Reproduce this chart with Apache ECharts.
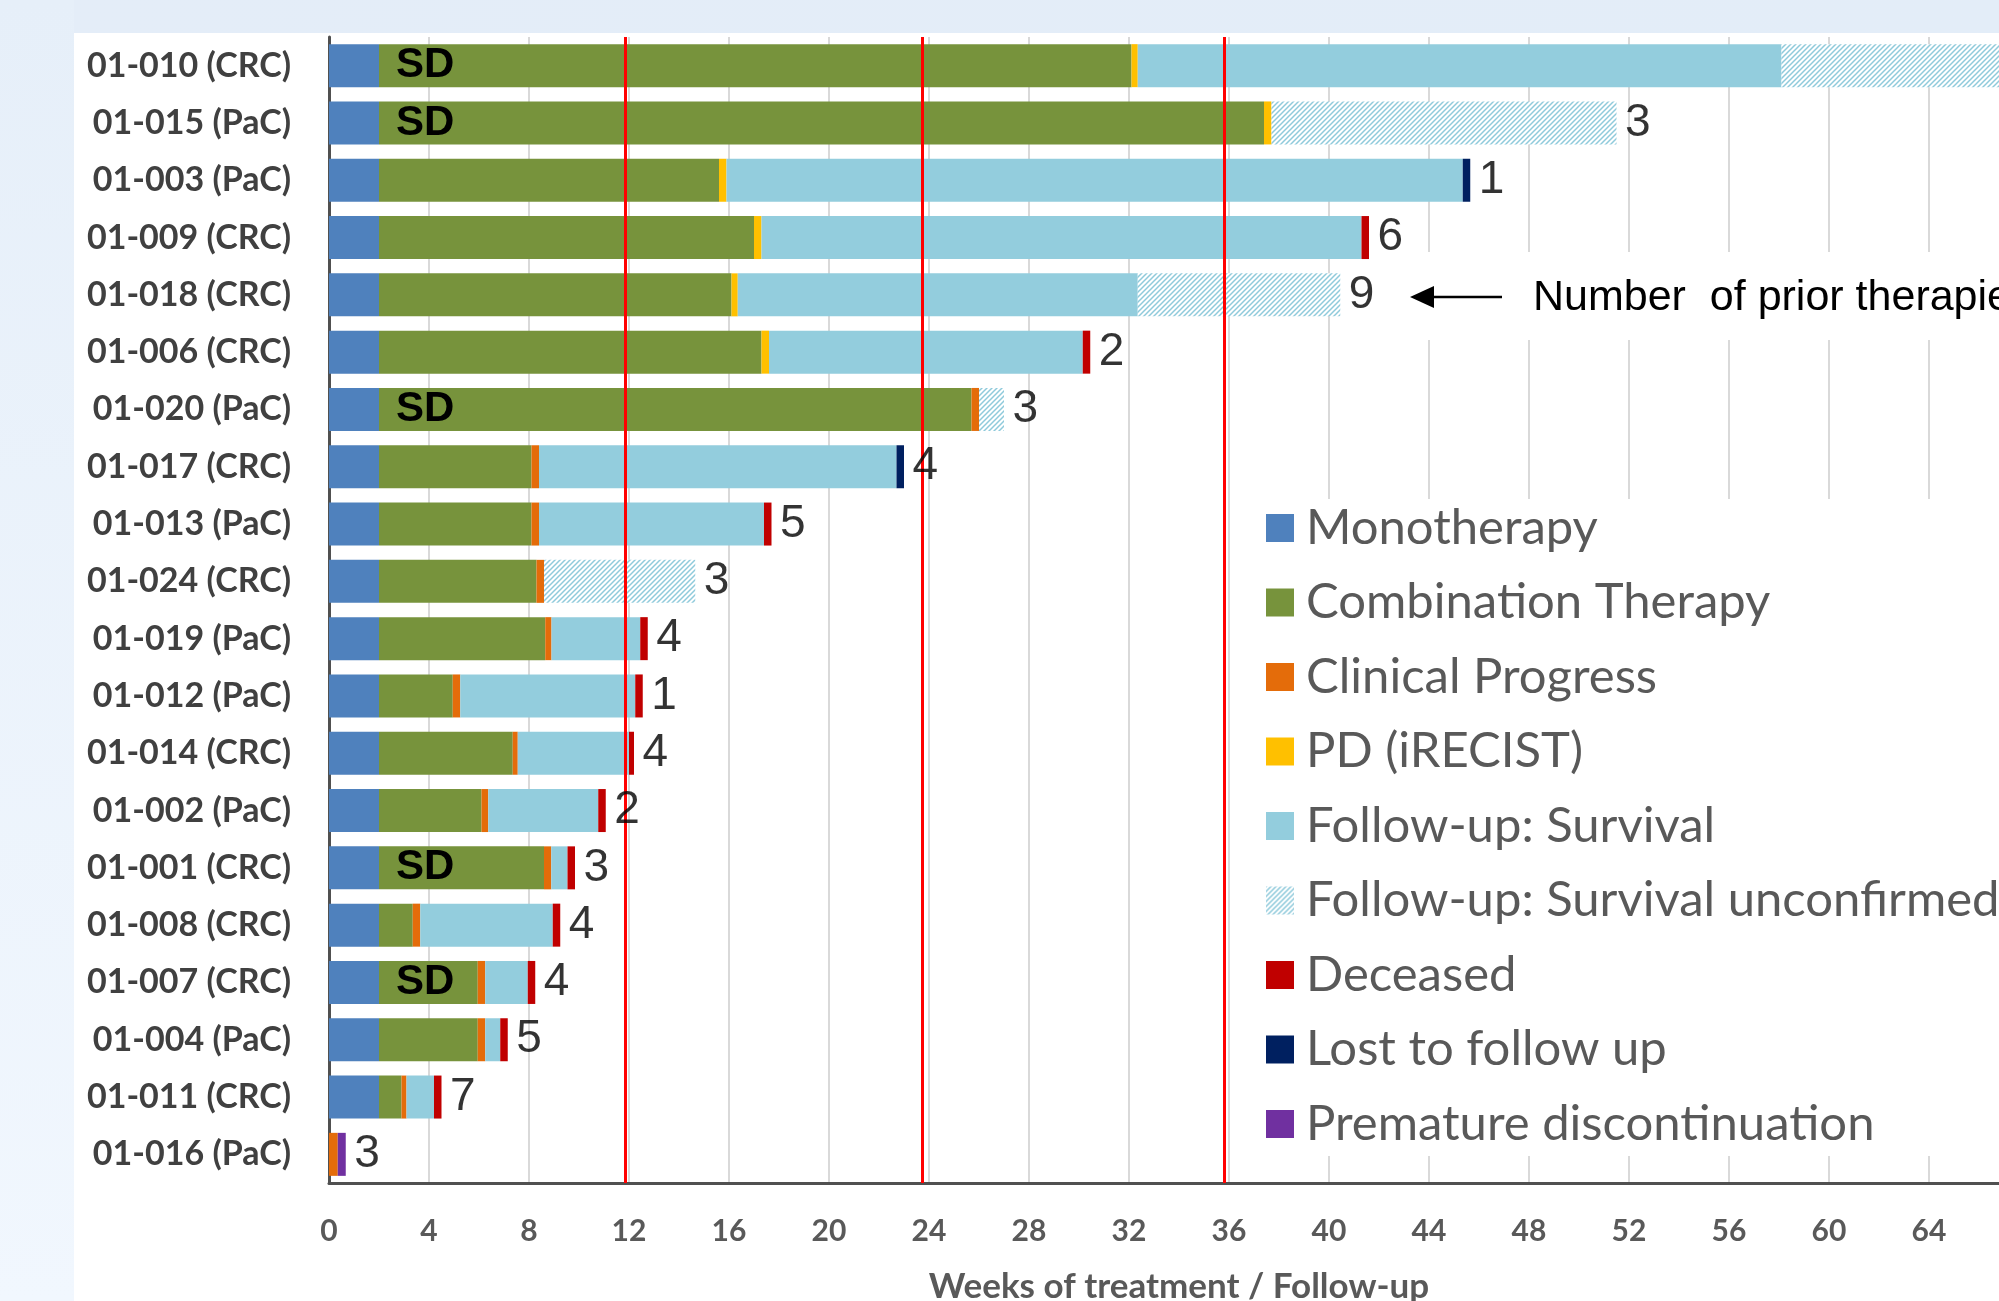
<!DOCTYPE html>
<html>
<head>
<meta charset="utf-8">
<script src="https://cdn.jsdelivr.net/npm/echarts@6/dist/echarts.min.js"></script>
<style>
  html, body { margin: 0; padding: 0; width: 1999px; height: 1301px; overflow: hidden; background: #fff; }
  #bandTop { position: absolute; left: 0; top: 0; width: 1999px; height: 33px; background: linear-gradient(90deg, #e4edf8, #e3edf8); }
  #bandLeft { position: absolute; left: 0; top: 0; width: 74px; height: 1301px; background: linear-gradient(180deg, #e6eff9, #f1f7fe); }
  #main { position: absolute; left: 0; top: 0; width: 2100px; height: 1301px; }
</style>
</head>
<body>
<div id="bandTop"></div>
<div id="bandLeft"></div>
<div id="main"></div>
<script>
// patients, top to bottom
var patients = ['01-010 (CRC)', '01-015 (PaC)', '01-003 (PaC)', '01-009 (CRC)', '01-018 (CRC)', '01-006 (CRC)',
  '01-020 (PaC)', '01-017 (CRC)', '01-013 (PaC)', '01-024 (CRC)', '01-019 (PaC)', '01-012 (PaC)', '01-014 (CRC)',
  '01-002 (PaC)', '01-001 (CRC)', '01-008 (CRC)', '01-007 (CRC)', '01-004 (PaC)', '01-011 (CRC)', '01-016 (PaC)'];

// weeks spent in each phase (stacked in this order)
var monotherapy   = [2, 2, 2, 2, 2, 2, 2, 2, 2, 2, 2, 2, 2, 2, 2, 2, 2, 2, 2, 0];
var combination   = [30.1, 35.4, 13.6, 15.0, 14.1, 15.3, 23.7, 6.1, 6.1, 6.3, 6.65, 2.95, 5.35, 4.1, 6.6, 1.35, 3.95, 3.95, 0.9, 0];
var clinicalProg  = [0, 0, 0, 0, 0, 0, 0.3, 0.3, 0.3, 0.3, 0.25, 0.3, 0.2, 0.27, 0.29, 0.3, 0.3, 0.3, 0.2, 0.35];
var pdIrecist     = [0.25, 0.3, 0.3, 0.3, 0.25, 0.3, 0, 0, 0, 0, 0, 0, 0, 0, 0, 0, 0, 0, 0, 0];
var followUp      = [25.75, 0, 29.45, 24.0, 16.0, 12.55, 0, 14.3, 9.0, 0, 3.55, 7.0, 4.45, 4.4, 0.65, 5.3, 1.7, 0.6, 1.1, 0];
var unconfirmed   = [9.9, 13.8, 0, 0, 8.1, 0, 1.0, 0, 0, 6.05, 0, 0, 0, 0, 0, 0, 0, 0, 0, 0];
var deceased      = [0, 0, 0, 0.3, 0, 0.3, 0, 0, 0.3, 0, 0.3, 0.3, 0.2, 0.3, 0.3, 0.3, 0.3, 0.3, 0.3, 0];
var lostFollowUp  = [0, 0, 0.3, 0, 0, 0, 0, 0.3, 0, 0, 0, 0, 0, 0, 0, 0, 0, 0, 0, 0];
var premature     = [0, 0, 0, 0, 0, 0, 0, 0, 0, 0, 0, 0, 0, 0, 0, 0, 0, 0, 0, 0.32];

var priorTherapies = [null, 3, 1, 6, 9, 2, 3, 4, 5, 3, 4, 1, 4, 2, 3, 4, 4, 5, 7, 3];
var response       = ['SD', 'SD', '', '', '', '', 'SD', '', '', '', '', '', '', '', 'SD', '', 'SD', '', '', ''];

var weekTicks = [0, 68, 4];          // min, max, interval
// the red reference lines sit just left of the 12 / 24 / 36 ticks in the original
var milestoneWeeks = [11.85, 23.72, 35.82];

var phaseNames = ['Monotherapy', 'Combination Therapy', 'Clinical Progress', 'PD (iRECIST)', 'Follow-up: Survival',
  'Follow-up: Survival unconfirmed', 'Deceased', 'Lost to follow up', 'Premature discontinuation'];
var phaseData = [monotherapy, combination, clinicalProg, pdIrecist, followUp, unconfirmed, deceased, lostFollowUp, premature];

// diagonal hatch for unconfirmed follow-up
function hatchPattern() {
  var c = document.createElement('canvas');
  c.width = 5; c.height = 5;
  var g = c.getContext('2d');
  g.fillStyle = '#ffffff';
  g.fillRect(0, 0, 5, 5);
  g.strokeStyle = '#8fcadb';
  g.lineWidth = 1.5;
  g.beginPath();
  g.moveTo(0, 5); g.lineTo(5, 0);
  g.moveTo(-1, 1); g.lineTo(1, -1);
  g.moveTo(4, 6); g.lineTo(6, 4);
  g.stroke();
  return { image: c, repeat: 'repeat' };
}

var colors = ['#4f81bd', '#77933c', '#e46c0a', '#ffc000', '#93cddd', hatchPattern(), '#c00000', '#002060', '#7030a0'];

var totals = patients.map(function (p, i) {
  return phaseData.reduce(function (s, arr) { return s + arr[i]; }, 0);
});

var myChart = echarts.init(document.getElementById('main'));

var series = phaseData.map(function (arr, k) {
  var s = {
    name: phaseNames[k],
    type: 'bar',
    stack: 'weeks',
    barWidth: 43,
    data: arr,
    itemStyle: { color: colors[k] }
  };
  if (k === 1) {
    s.label = {
      show: true,
      position: 'insideLeft',
      distance: 17,
      fontFamily: 'Liberation Sans',
      fontWeight: 'bold',
      fontSize: 42,
      color: '#000',
      formatter: function (p) { return response[p.dataIndex]; }
    };
  }
  if (k === 0) {
    s.markLine = {
      symbol: 'none',
      silent: true,
      label: { show: false },
      lineStyle: { color: '#ff0000', width: 3, type: 'solid' },
      data: milestoneWeeks.map(function (w) { return { xAxis: w }; })
    };
  }
  return s;
});

// number of prior therapies at the end of each bar
series.push({
  type: 'scatter',
  symbolSize: 1,
  itemStyle: { color: 'rgba(0,0,0,0)' },
  data: totals.map(function (t, i) { return [t, i]; }),
  label: {
    show: true,
    position: 'right',
    distance: 8,
    fontFamily: 'Liberation Sans',
    fontSize: 46,
    color: '#000',
    formatter: function (p) {
      var v = priorTherapies[p.dataIndex];
      return v == null ? '' : String(v);
    }
  },
  z: 6
});

myChart.setOption({
  animation: false,
  grid: { left: 329, right: 71, top: 37, bottom: 118, outerBoundsMode: 'none' },
  xAxis: {
    type: 'value',
    min: weekTicks[0],
    max: weekTicks[1],
    interval: weekTicks[2],
    name: 'Weeks of treatment / Follow-up',
    nameLocation: 'middle',
    nameGap: 86,
    nameTextStyle: { fontFamily: 'Lato', fontWeight: 'bold', fontSize: 35, color: '#595959' },
    axisLine: { show: true, lineStyle: { color: '#505050', width: 3 } },
    axisTick: { show: false },
    axisLabel: { margin: 33, fontFamily: 'Lato', fontWeight: 'bold', fontSize: 30, color: '#595959' },
    splitLine: { show: true, lineStyle: { color: '#d9d9d9', width: 2 } }
  },
  yAxis: {
    type: 'category',
    inverse: true,
    data: patients,
    axisLine: { show: true, lineStyle: { color: '#505050', width: 3 } },
    axisTick: { show: false },
    axisLabel: { margin: 38, fontFamily: 'Lato', fontWeight: 'bold', fontSize: 34, color: '#404040' }
  },
  legend: {
    orient: 'vertical',
    left: 1261,
    top: 497,
    z: 10,
    data: phaseNames,
    icon: 'rect',
    itemWidth: 28,
    itemHeight: 28,
    itemGap: 22.5,
    textStyle: { fontFamily: 'Lato', fontSize: 49, color: '#595959', lineHeight: 52, padding: [0, 0, 0, 7] }
  },
  graphic: [
    { type: 'rect', z: 3, shape: { x: 1240, y: 499, width: 900, height: 657 }, style: { fill: '#ffffff' } },
    { type: 'rect', z: 3, shape: { x: 1405, y: 252, width: 800, height: 88 }, style: { fill: '#ffffff' } },
    { type: 'line', z: 4, shape: { x1: 1502, y1: 297, x2: 1425, y2: 297 }, style: { stroke: '#000', lineWidth: 2.5 } },
    { type: 'polygon', z: 4, shape: { points: [[1410, 297], [1434, 286], [1434, 308]] }, style: { fill: '#000' } },
    { type: 'text', z: 4, x: 1533, y: 298,
      style: { text: 'Number  of prior therapies', fontFamily: 'Liberation Sans', fontSize: 43, fill: '#000', verticalAlign: 'middle' } }
  ],
  series: series
});
</script>
</body>
</html>
